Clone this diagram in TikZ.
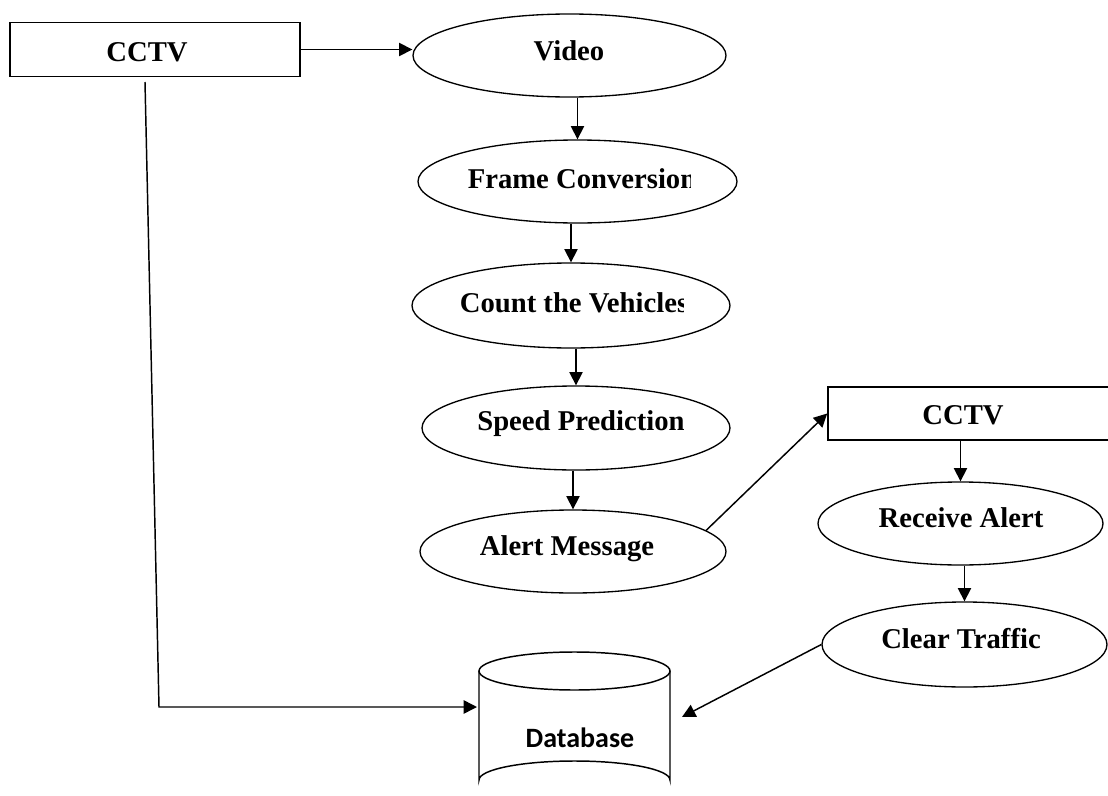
\documentclass[tikz,border=0pt]{standalone}
\usepackage{fontspec}
\setmainfont{Liberation Serif}
\newfontfamily\dbfont{Carlito}
\usetikzlibrary{shapes.geometric,arrows.meta}
\begin{document}
\begin{tikzpicture}[x=0.75pt,y=-0.75pt,
  proc/.style={draw, ellipse, inner sep=0pt, line width=1pt},
  box/.style={draw, rectangle, inner sep=0pt, line width=1.2pt},
  lbl/.style={font=\fontsize{21.5}{24}\selectfont\bfseries, inner sep=0pt},
  dblbl/.style={font=\dbfont\fontsize{21}{24}\selectfont\bfseries, inner sep=0pt},
  arr/.style={-{Triangle[length=10pt,width=10pt]}, line width=1.1pt},
  plain/.style={line width=1.1pt}]
\clip (0,0) rectangle (1108,796);
\fill[white] (0,0) rectangle (1108,796);

% left CCTV
\node[box, minimum width=290*0.75pt, minimum height=54*0.75pt] (cctv1) at (155,49.5) {};
\node[lbl] (cctv1t) at (147,52) {CCTV};

% main column
\node[proc, minimum width=313*0.75pt, minimum height=83*0.75pt] (video) at (569.5,55.5) {};
\node[lbl] (videot) at (569,51) {Video};

\node[proc, minimum width=319*0.75pt, minimum height=83*0.75pt] (frame) at (577.5,181.5) {};
\begin{scope}
  \clip (400,130) rectangle (690,230);
  \node[lbl] (framet) at (582,179) {Frame Conversion};
\end{scope}

\node[proc, minimum width=318*0.75pt, minimum height=85*0.75pt] (count) at (571,305.5) {};
\begin{scope}
  \clip (400,255) rectangle (683,350);
  \node[lbl] (countt) at (574,303) {Count the Vehicles};
\end{scope}

\node[proc, minimum width=308*0.75pt, minimum height=84*0.75pt] (speed) at (576,428) {};
\node[lbl] (speedt) at (581,424) {Speed Prediction};

\node[proc, minimum width=306*0.75pt, minimum height=83*0.75pt] (alert) at (573,551.5) {};
\node[lbl] (alertt) at (567,549) {Alert Message};

% right column
\node[box, minimum width=292*0.75pt, minimum height=53*0.75pt] (cctv2) at (974,413.5) {};
\node[lbl] (cctv2t) at (963,415) {CCTV};

\node[proc, minimum width=285*0.75pt, minimum height=83*0.75pt] (receive) at (960.5,523.5) {};
\node[lbl] (receivet) at (961,518) {Receive Alert};

\node[proc, minimum width=285*0.75pt, minimum height=85*0.75pt] (clear) at (964.5,644.5) {};
\node[lbl] (cleart) at (961,639) {Clear Traffic};

% database cylinder
\draw[line width=1.1pt] (574.5,671) ellipse [x radius=95.5, y radius=19];
\draw[line width=1.1pt] (479,671) -- (479,780) arc[start angle=180, end angle=360, x radius=95.5, y radius=19] -- (670,671);
\node[dblbl] (db) at (580,738) {Database};
\coordinate (dbL) at (477,707);
\coordinate (dbR) at (682,717);
\coordinate (c1) at (145,82);
\coordinate (c2) at (159,707);

% connectors
\draw[arr] (cctv1.east) -- (cctv1.east -| video.west);
\draw[arr] (frame.north |- video.south) -- (frame.north);
\draw[arr] (count.north |- frame.south) -- (count.north);
\draw[arr] (speed.north |- count.south) -- (speed.north);
\draw[arr] (alert.north |- speed.south) -- (alert.north);
\draw[arr] (alert.9) -- (cctv2.west);
\draw[arr] (receive.north |- cctv2.south) -- (receive.north);
\draw[arr] (clear.north |- receive.south) -- (clear.north);
\draw[arr] (clear.west) -- (dbR);
\draw[arr] (c1) -- (c2) -- (dbL);
\end{tikzpicture}
\end{document}
